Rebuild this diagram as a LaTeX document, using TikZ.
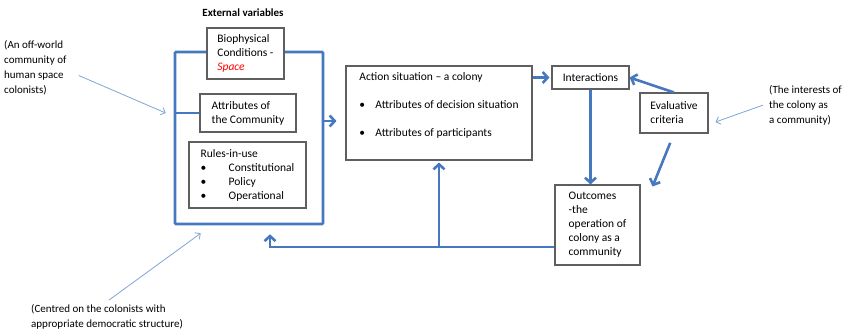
\documentclass[tikz,border=0pt]{standalone}
\usepackage{fontspec}
\setmainfont{Carlito}
\usepackage{tikz}
\usetikzlibrary{calc}
\usetikzlibrary{arrows.meta}

\definecolor{flowblue}{RGB}{70,120,192}
\definecolor{noteblue}{RGB}{128,163,214}
\definecolor{boxgray}{RGB}{95,95,95}

\tikzset{
  box/.style={draw=boxgray, line width=1.1pt, fill=white, align=left, inner sep=2pt},
  extframe/.style={draw=flowblue, line width=2.6pt, rounded corners=1pt},
  flowline/.style={draw=flowblue, line width=2.6pt},
  flow/.style={flowline, -{Straight Barb[length=5pt,width=11pt]}},
  note/.style={align=left, inner sep=0pt, anchor=north west, font=\fontsize{11}{15}\selectfont},
  notearrow/.style={draw=noteblue, line width=0.8pt, -{Straight Barb[length=4pt,width=8pt]}}
}

\begin{document}
\begin{tikzpicture}[x=1pt, y=-1pt, font=\fontsize{11.5}{14}\selectfont]
  \useasboundingbox (0,0) rectangle (857,335);

  \node[font=\bfseries\fontsize{11}{13}\selectfont] (extvar) at (243,13) {External variables};
  \node[extframe, minimum width=148pt, minimum height=172pt] (ext) at (249,138) {};
  \node[box, minimum width=77pt, minimum height=51pt] (bio) at (245.5,53.5)
     {Biophysical\\Conditions -\\\textcolor{red}{\textit{Space}}};
  \node[box, minimum width=96pt, minimum height=38pt] (attr) at (248,113)
     {Attributes of\\the Community};
  \node[box, minimum width=117pt, minimum height=66pt] (rules) at (247.5,175)
     {Rules-in-use\\
      \makebox[28pt][l]{\textbullet}Constitutional\\
      \makebox[28pt][l]{\textbullet}Policy\\
      \makebox[28pt][l]{\textbullet}Operational};

  \node[box, minimum width=186pt, minimum height=94pt] (act) at (439,113)
     {Action situation – a colony\\[14pt]
      \makebox[16pt][l]{\textbullet}Attributes of decision situation\\[14pt]
      \makebox[16pt][l]{\textbullet}Attributes of participants\\[2pt]\mbox{}};
  \node[box, minimum width=77pt, minimum height=23pt] (inter) at (590.5,77.5) {Interactions};
  \node[box, minimum width=68pt, minimum height=40pt] (eval) at (674,113) {Evaluative\\criteria};
  \node[box, minimum width=85pt, minimum height=80pt] (outc) at (597.5,225)
     {Outcomes\\-the\\operation of\\colony as a\\community};

  \node[note] (offw) at (4,40) {(An off-world\\community of\\human space\\colonists)};
  \node[note] (intr) at (769,85) {(The interests of\\the colony as\\a community)};
  \node[note] (cent) at (31,304) {(Centred on the colonists with\\appropriate democratic structure)};

  \draw[flowline] (ext.west |- attr.west) -- (attr.west);
  \draw[flow, shorten >=9pt] ($(ext.east |- act.west)+(0,8)$) -- ($(act.west)+(0,8)$);
  \draw[flow, shorten >=2pt] (act.east |- inter.west) -- (inter.west);
  \draw[flow] (inter.south) -- (inter.south |- outc.north);
  \draw[flow] (eval.north) -- (inter.east);
  \draw[flow, shorten <=10pt] (eval.south) -- ($(outc.north east)+(12,2)$);

  \coordinate (fb) at ($(outc.west)+(0,22)$);
  \coordinate (back) at ($(ext.south)+(21,9)$);
  \draw[flow] (fb) -| (back);
  \draw[flow, shorten >=2pt] (fb -| act.south) -- (act.south);

  \draw[notearrow] ($(offw.east)+(12,8)$) -- ($(ext.west |- attr.west)+(-8,0)$);
  \draw[notearrow] ($(intr.west)+(-6,0)$) -- ($(eval.east)+(7,9)$);
  \draw[notearrow] ($(cent.north)+(2,-4)$) -- ($(ext.south west)+(27,8)$);
\end{tikzpicture}
\end{document}
